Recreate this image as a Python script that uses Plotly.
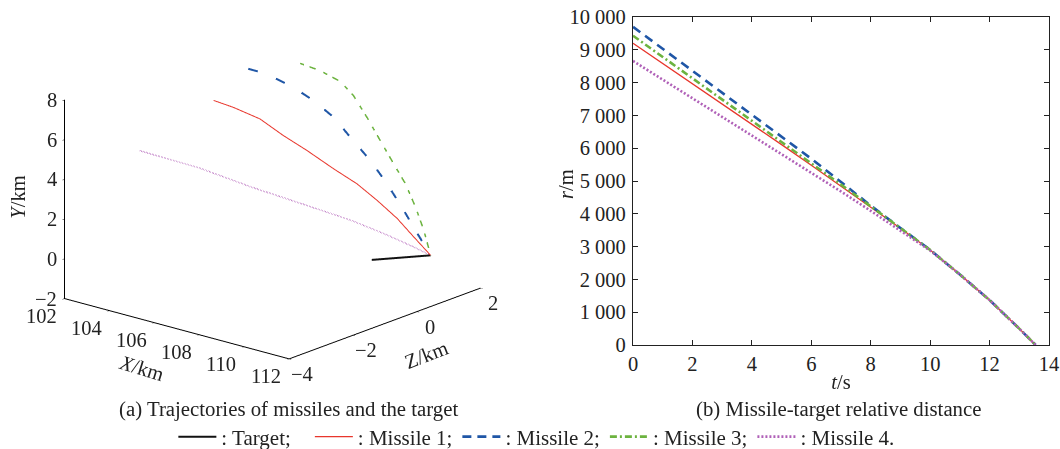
import plotly.graph_objects as go

# ---------------- data: (b) missile-target relative distance ----------------
t_s = [0, 1, 2, 3, 4, 5, 6, 7, 8, 9, 10, 11, 12, 13, 13.55]
r_m1 = [9200, 8585, 7970, 7355, 6735, 6110, 5480, 4850, 4200, 3560, 2900, 2150, 1370, 500, 0]
r_m2 = [9700, 9030, 8360, 7690, 7020, 6350, 5680, 4970, 4250, 3570, 2900, 2150, 1370, 500, 0]
r_m3 = [9430, 8785, 8140, 7490, 6845, 6200, 5550, 4890, 4230, 3565, 2900, 2150, 1370, 500, 0]
r_m4 = [8660, 8095, 7530, 6960, 6395, 5830, 5260, 4680, 4090, 3480, 2880, 2150, 1370, 500, 0]

r_tickvals = [0, 1000, 2000, 3000, 4000, 5000, 6000, 7000, 8000, 9000, 10000]
r_ticktext = ["0", "1 000", "2 000", "3 000", "4 000", "5 000", "6 000", "7 000",
              "8 000", "9 000", "10 000"]
t_tickvals = [0, 2, 4, 6, 8, 10, 12, 14]

# ---------------- data: (a) trajectories (km) ----------------
X_tgt = [110.0, 110.6, 111.2]
Y_tgt = [0.0, 0.0, 0.0]
Z_tgt = [0.0, 0.5, 1.0]

X_m1 = [105.8, 106.3, 106.95, 107.54, 108.12, 108.78, 109.37, 109.87, 110.37, 110.78, 111.2]
Y_m1 = [7.94, 7.58, 6.98, 6.13, 5.36, 4.42, 3.65, 2.80, 1.87, 0.93, 0.0]
Z_m1 = [-2.0, -1.73, -1.36, -1.04, -0.71, -0.34, -0.02, 0.26, 0.54, 0.77, 1.0]

X_m2 = [104.5, 105.18, 106.16, 106.9, 107.64, 108.25, 108.99, 109.6, 110.22, 110.71, 111.2]
Y_m2 = [7.95, 7.84, 7.37, 6.86, 6.18, 5.31, 4.29, 3.26, 2.05, 0.99, 0.0]
Z_m2 = [0.0, 0.10, 0.25, 0.36, 0.47, 0.56, 0.67, 0.76, 0.85, 0.93, 1.0]

X_m3 = [105.39, 106.29, 107.18, 107.77, 108.37, 108.96, 109.56, 110.08, 110.53, 110.9, 111.2]
Y_m3 = [7.90, 7.80, 7.53, 6.99, 6.08, 5.09, 4.10, 3.26, 2.22, 1.16, 0.0]
Z_m3 = [1.0, 1.0, 1.0, 1.0, 1.0, 1.0, 1.0, 1.0, 1.0, 1.0, 1.0]

X_m4 = [103.93, 105.43, 106.69, 107.94, 109.19, 110.03, 110.78, 111.2]
Y_m4 = [5.44, 4.52, 3.56, 2.69, 1.82, 1.13, 0.43, 0.0]
Z_m4 = [-3.0, -2.17, -1.48, -0.79, -0.10, 0.35, 0.77, 1.0]

X_ticks = [102, 104, 106, 108, 110, 112]
Y_ticks = [-2, 0, 2, 4, 6, 8]
Z_ticks = [-4, -2, 0, 2]

NBSP = "\u00a0"
names = [": Target;" + NBSP * 2 + "\u2006", ": Missile 1;", ": Missile 2;", ": Missile 3;",
         ": Missile 4."]
colors = ["#111111", "#e8362c", "#1f56a6", "#6cb33f", "#b061b8"]

FONT = "Liberation Serif, Times New Roman, serif"
AX = "#222222"
FS = 20.5

fig = go.Figure()

# ---- 3D trajectories (scene: x = X, y = Z, z = Y) ----
traj = [(X_tgt, Y_tgt, Z_tgt, "solid", 4),
        (X_m1, Y_m1, Z_m1, "solid", 2),
        (X_m2, Y_m2, Z_m2, "longdash", 4),
        (X_m3, Y_m3, Z_m3, "longdashdot", 3),
        (X_m4, Y_m4, Z_m4, "dot", 3)]
for (xs, ys, zs, dash, w), c in zip(traj, colors):
    fig.add_trace(go.Scatter3d(x=xs, y=zs, z=ys, mode="lines",
                               line=dict(color=c, width=w, dash=dash),
                               showlegend=False, hoverinfo="skip", scene="scene"))

# ---- 2D distances ----
fig.add_trace(go.Scatter(x=[None], y=[None], mode="lines", name=names[0],
                         line=dict(color=colors[0], width=2), xaxis="x", yaxis="y"))
series2d = [(r_m1, "solid", 1.3), (r_m2, "9px,6px", 2.6),
            (r_m3, "7px,3px,2px,3px", 2.6), (r_m4, "2px,2px", 2.6)]
for i, (rv, dash, w) in enumerate(series2d):
    fig.add_trace(go.Scatter(x=t_s, y=rv, mode="lines", name=names[i + 1],
                             line=dict(color=colors[i + 1], width=w, dash=dash),
                             xaxis="x", yaxis="y"))

axis3d = dict(showbackground=False, showgrid=False, zeroline=False, showline=True,
              linecolor="black", linewidth=2, ticks="outside", tickcolor="black",
              ticklen=3, showspikes=False, showticklabels=False, title=dict(text=""))

# scene annotations: tick labels and axis titles placed in data coordinates
ann3d = []
tf = dict(family=FONT, size=FS, color=AX)
for v in Y_ticks:
    ann3d.append(dict(x=102, y=-4, z=v, text=str(v).replace("-", "\u2212"), showarrow=False,
                      xanchor="right", yanchor="middle", xshift=-5, font=tf))
for v in X_ticks:
    ann3d.append(dict(x=v, y=-4, z=-2, text=str(v), showarrow=False,
                      xanchor="center", yanchor="middle", xshift=-23, yshift=-17, font=tf))
for v in Z_ticks:
    ann3d.append(dict(x=112, y=v, z=-2, text=str(v).replace("-", "\u2212"), showarrow=False,
                      xanchor="center", yanchor="middle", xshift=13, yshift=-15, font=tf))
ann3d.append(dict(x=102, y=-4, z=3, text="<i>Y</i>/km", showarrow=False, textangle=-90,
                  xanchor="center", yanchor="middle", xshift=-46, yshift=2, font=tf))
ann3d.append(dict(x=106, y=-4, z=-2, text="<i>X</i>/km", showarrow=False, textangle=17,
                  xanchor="center", yanchor="middle", xshift=-13, yshift=-45, font=tf))
ann3d.append(dict(x=112, y=0, z=-2, text="Z/km", showarrow=False, textangle=-21,
                  xanchor="center", yanchor="middle", xshift=9, yshift=-43, font=tf))

fig.update_layout(
    width=1060, height=449,
    margin=dict(l=0, r=0, t=0, b=0, autoexpand=False),
    paper_bgcolor="white", plot_bgcolor="white",
    font=dict(family=FONT, size=FS, color=AX),
    scene=dict(
        domain=dict(x=[0.0, 0.514], y=[0.136, 1.0]),
        xaxis=dict(axis3d, range=[102, 112], tickvals=X_ticks),
        yaxis=dict(axis3d, range=[-4, 2], tickvals=Z_ticks),
        zaxis=dict(axis3d, range=[-2, 8], tickvals=Y_ticks),
        aspectmode="manual", aspectratio=dict(x=1.521, y=1.521, z=1.079),
        camera=dict(eye=dict(x=1.5375, y=-1.805, z=0.7875), up=dict(x=0, y=0, z=1),
                    center=dict(x=0, y=0, z=0),
                    projection=dict(type="orthographic")),
        annotations=ann3d,
    ),
    xaxis=dict(domain=[0.5972, 0.9896], anchor="y", range=[0, 14], tickvals=t_tickvals,
               showline=True, linecolor=AX, linewidth=1.3, mirror="ticks",
               ticks="inside", ticklen=5, tickcolor=AX, showgrid=False, zeroline=False,
               tickfont=dict(family=FONT, size=FS, color=AX),
               title=dict(text="<i>t</i>/s", standoff=0, font=dict(family=FONT, size=FS))),
    yaxis=dict(domain=[0.2316, 0.9621], anchor="x", range=[0, 10000],
               tickvals=r_tickvals, ticktext=r_ticktext, ticklabelstandoff=2,
               showline=True, linecolor=AX, linewidth=1.3, mirror="ticks",
               ticks="inside", ticklen=5, tickcolor=AX, showgrid=False, zeroline=False,
               tickfont=dict(family=FONT, size=FS, color=AX)),
    legend=dict(orientation="h", x=0.506, xanchor="center", y=1 - 437 / 449, yanchor="middle",
                font=dict(family=FONT, size=21, color=AX), bgcolor="rgba(0,0,0,0)",
                itemwidth=38, tracegroupgap=0),
    annotations=[
        dict(text="<i>r</i>/m", x=566 / 1060, y=1 - 184 / 449, xref="paper", yref="paper",
             showarrow=False, textangle=-90, xanchor="center", yanchor="middle",
             font=dict(family=FONT, size=FS, color=AX)),
        dict(text="(a) Trajectories of missiles and the target", x=288 / 1060, y=1 - 409 / 449,
             xref="paper", yref="paper", showarrow=False, xanchor="center", yanchor="middle",
             font=dict(family=FONT, size=20.8, color=AX)),
        dict(text="(b) Missile-target relative distance", x=838 / 1060, y=1 - 409 / 449,
             xref="paper", yref="paper", showarrow=False, xanchor="center", yanchor="middle",
             font=dict(family=FONT, size=20.8, color=AX)),
    ],
)

fig.write_html("out.html")
